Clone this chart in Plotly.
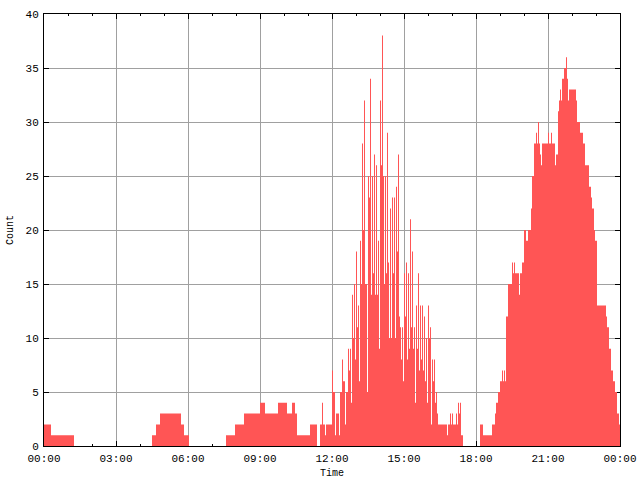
import plotly.graph_objects as go

# ---- data (time in minutes after midnight, counts) ----
# Morning / forenoon: step breakpoints (count holds until next breakpoint)
morning_minutes = [0, 17.5, 75, 270, 280, 290, 342.5, 350, 362.5, 455, 477.5,
                   500, 540, 552.5, 585, 607.5, 620, 627.5, 632.5, 665, 682.5]
morning_counts = [2, 1, 0, 1, 2, 3, 2, 1, 0, 1, 2,
                  3, 4, 3, 4, 3, 4, 3, 1, 2, 0]

# Midday: fine bins of 2.5 minutes starting at 11:30
midday_start = 690
midday_bin = 2.5
midday_counts = [
    2, 2, 4, 2, 2, 1, 2, 2, 2, 2, 2, 2, 7, 5, 5, 1, 3, 3, 3, 1,
    5, 5, 8, 6, 6, 2, 5, 5, 9, 7, 9, 4, 14, 10, 15, 8, 18, 11, 13, 6,
    19, 15, 28, 20, 32, 15, 15, 5, 25, 23, 34, 14, 25, 16, 27, 14, 26, 14, 19, 9,
    32, 26, 38, 25, 15, 25, 16, 29, 17, 10, 22, 10, 23, 16, 23, 10, 24, 18, 27, 12,
    11, 8, 11, 6, 16, 12, 17, 8, 16, 9, 21, 11, 18, 9, 11, 4, 13, 9, 16, 7,
    13, 8, 13, 7, 12, 6, 10, 4, 13, 10, 11, 2, 8, 6, 8, 4, 5, 3, 2, 2,
    2, 2, 2, 2, 2, 2, 2, 1, 2, 2, 3, 2, 3, 2, 2, 2, 3, 2, 4, 3,
    4, 1, 1,
]

# Evening: step breakpoints
evening_minutes = [1047.5, 1090, 1097.5, 1120, 1127.5, 1130, 1135, 1140, 1145, 1147.5,
                   1150, 1152.5, 1155, 1160, 1170, 1172.5, 1175, 1177.5, 1187.5, 1190,
                   1195, 1200, 1205, 1210, 1217.5, 1220, 1225, 1230, 1232.5, 1235,
                   1237.5, 1240, 1242.5, 1245, 1260, 1262.5, 1267.5, 1270, 1277.5, 1280,
                   1285, 1287.5, 1290, 1292.5, 1295, 1300, 1305, 1307.5, 1310, 1312.5,
                   1330, 1332.5, 1340, 1347.5, 1352.5, 1362.5, 1367.5, 1370, 1375, 1377.5,
                   1382.5, 1405, 1407.5, 1412.5, 1417.5, 1422.5, 1427.5, 1432.5, 1437.5]
evening_counts = [0, 2, 1, 2, 3, 4, 5, 6, 7, 6,
                  7, 6, 12, 15, 17, 16, 17, 16, 14, 16,
                  17, 20, 19, 20, 22, 25, 28, 29, 28, 30,
                  28, 27, 26, 28, 29, 28, 29, 28, 26, 27,
                  31, 32, 33, 32, 34, 35, 36, 34, 32, 33,
                  32, 30, 29, 28, 26, 24, 23, 22, 20, 19,
                  13, 12, 11, 9, 7, 6, 5, 3, 2]

day_end = 1440
tick_minutes = [0, 180, 360, 540, 720, 900, 1080, 1260, 1440]
tick_labels = ["00:00", "03:00", "06:00", "09:00", "12:00", "15:00", "18:00", "21:00", "00:00"]
y_ticks = [0, 5, 10, 15, 20, 25, 30, 35, 40]

# ---- assemble step series ----
xs = list(morning_minutes)
ys = list(morning_counts)
for i, c in enumerate(midday_counts):
    xs.append(midday_start + i * midday_bin)
    ys.append(c)
xs += evening_minutes
ys += evening_counts
xs.append(day_end)
ys.append(ys[-1])

font_family = "Liberation Mono, DejaVu Sans Mono, monospace"

fig = go.Figure()
fig.add_trace(go.Scatter(
    x=xs, y=ys, mode="lines", line_shape="hv",
    line=dict(width=0, color="#ff5555"),
    fill="tozeroy", fillcolor="#ff5555",
    hoverinfo="skip", showlegend=False,
))

axis_common = dict(
    showline=True, linecolor="black", linewidth=1, mirror="ticks",
    ticks="inside", tickcolor="black", ticklen=5, tickwidth=1,
    showgrid=True, gridcolor="#a0a0a0", gridwidth=1,
    zeroline=False, layer="below traces",
    tickfont=dict(family=font_family, size=11, color="black"),
)

fig.update_xaxes(
    range=[0, day_end], tickmode="array", tickvals=tick_minutes, ticktext=tick_labels,
    minor=dict(tickmode="array", tickvals=list(range(60, 1440, 60)),
               ticks="inside", ticklen=2, tickcolor="black", showgrid=False),
    title=dict(text="Time", font=dict(family=font_family, size=10, color="black"), standoff=4),
    ticklabelstandoff=2,
    **axis_common,
)
fig.update_yaxes(
    range=[0, 40], tickmode="array", tickvals=y_ticks,
    title=dict(text="Count", font=dict(family=font_family, size=10, color="black"), standoff=10),
    ticklabelstandoff=2,
    **axis_common,
)

fig.update_layout(
    width=640, height=480,
    margin=dict(l=44, r=20, t=14, b=34, autoexpand=False),
    paper_bgcolor="white", plot_bgcolor="white",
    font=dict(family=font_family, size=11, color="black"),
)

# remove the page's default body margin so the figure fills the 640x480 window
fig.write_html(
    "out.html",
    config={"displayModeBar": False, "staticPlot": True},
    post_script="document.documentElement.style.overflow='hidden';"
                "document.body.style.margin='0';"
                "document.body.style.overflow='hidden';",
)
